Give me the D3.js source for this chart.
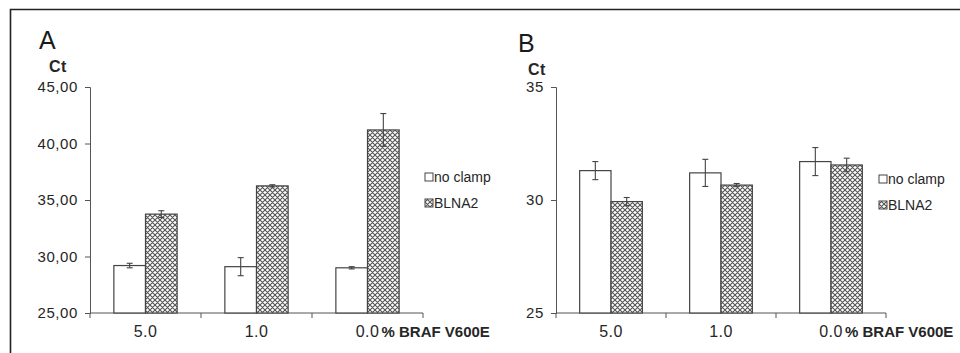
<!DOCTYPE html>
<html>
<head>
<meta charset="utf-8">
<script src="https://cdn.jsdelivr.net/npm/d3@7"></script>
<style>
  body { margin: 0; background: #fff; }
  svg { display: block; font-family: "Liberation Sans", Arial, sans-serif; }
</style>
</head>
<body>
<svg width="960" height="353"></svg>
<script>
var svg = d3.select('svg');

// data
var categories = ['5.0', '1.0', '0.0'];
var seriesNames = ['no clamp', 'BLNA2'];

var noClampA = [29.2, 29.1, 29.0];
var noClampAErr = [0.2, 0.8, 0.1];
var blnaA = [33.75, 36.25, 41.2];
var blnaAErr = [0.3, 0.1, 1.45];

var noClampB = [31.3, 31.2, 31.7];
var noClampBErr = [0.4, 0.6, 0.62];
var blnaB = [29.93, 30.66, 31.55];
var blnaBErr = [0.18, 0.07, 0.3];

var ticksA = [25, 30, 35, 40, 45];
var ticksB = [25, 30, 35];

// hatch pattern for BLNA2
var defs = svg.append('defs');
var pat = defs.append('pattern')
    .attr('id', 'hatch')
    .attr('patternUnits', 'userSpaceOnUse')
    .attr('width', 5)
    .attr('height', 5);
pat.append('rect').attr('width', 5).attr('height', 5).attr('fill', '#fff');
pat.append('path')
    .attr('d', 'M0,0 L5,5 M5,0 L0,5 M-1,4 L1,6 M4,-1 L6,1 M4,6 L6,4 M-1,1 L1,-1')
    .attr('stroke', '#555')
    .attr('stroke-width', 1.1);

// frame
svg.append('path')
    .attr('d', 'M10.5,353 L10.5,9.5 L960,9.5')
    .attr('fill', 'none')
    .attr('stroke', '#222')
    .attr('stroke-width', 1.6);

var textColor = '#262626';

function drawPanel(p) {
    var g = svg.append('g');

    var x = d3.scaleBand()
        .domain(categories)
        .range([p.left, p.right])
        .paddingInner(0.43)
        .paddingOuter(0.215);

    var y = d3.scaleLinear()
        .domain([p.ticks[0], p.ticks[p.ticks.length - 1]])
        .range([313, 87]);

    var inner = d3.scaleBand()
        .domain(seriesNames)
        .range([0, x.bandwidth()]);

    // y axis
    var yAxis = g.append('g')
        .attr('transform', 'translate(' + p.left + ',0)')
        .call(d3.axisLeft(y).tickValues(p.ticks).tickSize(5).tickPadding(7)
            .tickFormat(p.fmt));
    yAxis.select('.domain').attr('stroke', '#555');
    yAxis.selectAll('.tick line').attr('stroke', '#555');
    yAxis.selectAll('.tick text')
        .attr('fill', textColor)
        .style('font-size', '15px')
        .style('letter-spacing', '0.6px');

    // x axis with ticks between groups
    var step = (p.right - p.left) / categories.length;
    var xAxis = g.append('g')
        .attr('transform', 'translate(0,313)');
    xAxis.append('line')
        .attr('x1', p.left).attr('x2', p.right)
        .attr('stroke', '#555');
    xAxis.selectAll('.sep')
        .data(d3.range(categories.length + 1))
        .enter().append('line')
        .attr('x1', function(i) { return p.left + i * step; })
        .attr('x2', function(i) { return p.left + i * step; })
        .attr('y1', 0).attr('y2', 5)
        .attr('stroke', '#555');
    xAxis.selectAll('.lab')
        .data(categories)
        .enter().append('text')
        .attr('x', function(d) { return x(d) + x.bandwidth() / 2; })
        .attr('y', 24)
        .attr('text-anchor', 'middle')
        .attr('fill', textColor)
        .style('font-size', '16px')
        .style('letter-spacing', '0.4px')
        .text(function(d) { return d; });
    xAxis.append('text')
        .attr('x', x('0.0') + x.bandwidth() / 2 + 14)
        .attr('y', 24)
        .attr('fill', textColor)
        .style('font-size', '15px')
        .style('font-weight', 'bold')
        .text('% BRAF V600E');

    // bars
    var series = [
        {name: 'no clamp', vals: p.noClamp, errs: p.noClampErr, fill: '#fff'},
        {name: 'BLNA2', vals: p.blna, errs: p.blnaErr, fill: 'url(#hatch)'}
    ];
    series.forEach(function(s) {
        g.selectAll(null)
            .data(categories)
            .enter().append('rect')
            .attr('x', function(d) { return x(d) + inner(s.name); })
            .attr('y', function(d, i) { return y(s.vals[i]); })
            .attr('width', inner.bandwidth())
            .attr('height', function(d, i) { return 313 - y(s.vals[i]); })
            .attr('fill', s.fill)
            .attr('stroke', '#444')
            .attr('stroke-width', 1.2);

        var eb = g.selectAll(null)
            .data(categories)
            .enter().append('g')
            .attr('stroke', '#444')
            .attr('stroke-width', 1.1);
        eb.append('line')
            .attr('x1', function(d) { return x(d) + inner(s.name) + inner.bandwidth() / 2; })
            .attr('x2', function(d) { return x(d) + inner(s.name) + inner.bandwidth() / 2; })
            .attr('y1', function(d, i) { return y(s.vals[i] - s.errs[i]); })
            .attr('y2', function(d, i) { return y(s.vals[i] + s.errs[i]); });
        [-1, 1].forEach(function(sign) {
            eb.append('line')
                .attr('x1', function(d) { return x(d) + inner(s.name) + inner.bandwidth() / 2 - 3; })
                .attr('x2', function(d) { return x(d) + inner(s.name) + inner.bandwidth() / 2 + 3; })
                .attr('y1', function(d, i) { return y(s.vals[i] + sign * s.errs[i]); })
                .attr('y2', function(d, i) { return y(s.vals[i] + sign * s.errs[i]); });
        });
    });

    // panel letter and axis title
    g.append('text')
        .attr('x', p.letterX).attr('y', p.letterY)
        .attr('fill', '#1a1a1a')
        .style('font-size', '25px')
        .text(p.letter);
    g.append('text')
        .attr('x', p.ctX).attr('y', p.ctY)
        .attr('fill', textColor)
        .style('font-size', '16px')
        .style('font-weight', 'bold')
        .style('letter-spacing', '0.5px')
        .text('Ct');

    // legend
    var leg = g.append('g')
        .attr('transform', 'translate(' + p.legX + ',' + p.legY + ')');
    leg.selectAll('rect')
        .data(series)
        .enter().append('rect')
        .attr('x', 0)
        .attr('y', function(d, i) { return i * 26 - 9; })
        .attr('width', 8).attr('height', 8)
        .attr('fill', function(d) { return d.fill; })
        .attr('stroke', '#444');
    leg.selectAll('text')
        .data(series)
        .enter().append('text')
        .attr('x', 9)
        .attr('y', function(d, i) { return i * 26; })
        .attr('fill', textColor)
        .style('font-size', '14px')
        .text(function(d) { return d.name; });
}

var comma2 = function(d) { return d.toFixed(2).replace('.', ','); };

drawPanel({
    left: 90, right: 423, ticks: ticksA, fmt: comma2,
    noClamp: noClampA, noClampErr: noClampAErr, blna: blnaA, blnaErr: blnaAErr,
    letter: 'A', letterX: 39, letterY: 49, ctX: 49, ctY: 72,
    legX: 425, legY: 182
});

drawPanel({
    left: 556, right: 886, ticks: ticksB, fmt: d3.format('d'),
    noClamp: noClampB, noClampErr: noClampBErr, blna: blnaB, blnaErr: blnaBErr,
    letter: 'B', letterX: 518, letterY: 52, ctX: 528, ctY: 75,
    legX: 879, legY: 184
});
</script>
</body>
</html>
